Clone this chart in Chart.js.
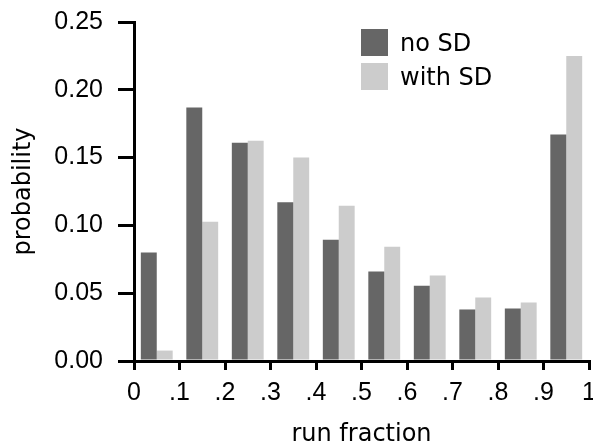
<!DOCTYPE html>
<html>
<head>
<meta charset="utf-8">
<script src="https://cdn.jsdelivr.net/npm/chart.js@4"></script>
<style>
  html, body { margin: 0; padding: 0; background: #ffffff; }
  #wrap { width: 593px; height: 445px; }
</style>
</head>
<body>
<div id="wrap"><canvas id="c" width="593" height="445"></canvas></div>
<script>
// ---- data ----
const categories = ['0-.1', '.1-.2', '.2-.3', '.3-.4', '.4-.5', '.5-.6', '.6-.7', '.7-.8', '.8-.9', '.9-1'];
const noSD   = [0.080, 0.187, 0.161, 0.117, 0.0895, 0.066, 0.0555, 0.038, 0.0387, 0.167];
const withSD = [0.0077, 0.1027, 0.1624, 0.150, 0.1145, 0.0843, 0.063, 0.0468, 0.0431, 0.225];
const seriesNames = ['no SD', 'with SD'];
const xTickLabels = ['0', '.1', '.2', '.3', '.4', '.5', '.6', '.7', '.8', '.9', '1'];
const yTickValues = [0, 0.05, 0.10, 0.15, 0.20, 0.25];

const DARK = '#666666';
const LIGHT = '#cccccc';
const TICK_FONT = { family: 'Liberation Sans', size: 25 };
const TEXT_FAMILY = 'DejaVu Sans';

const legendPlugin = {
  id: 'insideLegend',
  afterDraw(chart) {
    const ctx = chart.ctx;
    ctx.save();
    chart.data.datasets.forEach((ds, i) => {
      const bx = 361, by = 29 + i * 34, bs = 27;
      ctx.fillStyle = ds.backgroundColor;
      ctx.fillRect(bx, by, bs, bs);
      ctx.fillStyle = '#000000';
      ctx.font = '24px "' + TEXT_FAMILY + '"';
      ctx.textBaseline = 'middle';
      ctx.textAlign = 'left';
      ctx.fillText(ds.label, 400, by + bs / 2 + 2);
    });
    ctx.restore();
  }
};

new Chart(document.getElementById('c'), {
  type: 'bar',
  data: {
    labels: categories,
    datasets: [
      { label: seriesNames[0], data: noSD, backgroundColor: DARK, borderWidth: 0,
        categoryPercentage: 0.7, barPercentage: 1.0, xAxisID: 'x', yAxisID: 'y' },
      { label: seriesNames[1], data: withSD, backgroundColor: LIGHT, borderWidth: 0,
        categoryPercentage: 0.7, barPercentage: 1.0, xAxisID: 'x', yAxisID: 'y' }
    ]
  },
  options: {
    responsive: false,
    animation: false,
    devicePixelRatio: 1,
    layout: { padding: { top: 22, right: 4, left: 0, bottom: 0 } },
    plugins: {
      legend: { display: false },
      tooltip: { enabled: false }
    },
    scales: {
      x: {
        type: 'category',
        display: false,
        offset: true
      },
      x2: {
        type: 'linear',
        position: 'bottom',
        axis: 'x',
        offset: false,
        min: 0,
        max: 1,
        afterBuildTicks(scale) {
          scale.ticks = xTickLabels.map((_, i) => ({ value: i / 10 }));
        },
        afterFit(scale) {
          scale.height = 84;
          scale.paddingLeft = 0;
          scale.paddingRight = 0;
        },
        grid: {
          offset: false,
          drawOnChartArea: false,
          drawTicks: true,
          tickLength: 9,
          color: '#000000',
          lineWidth: 3
        },
        border: { display: true, color: '#000000', width: 3 },
        ticks: {
          color: '#000000',
          font: TICK_FONT,
          padding: 8,
          maxRotation: 0,
          autoSkip: false,
          callback: (v, i) => xTickLabels[i]
        },
        title: {
          display: true,
          text: 'run fraction',
          color: '#000000',
          font: { family: TEXT_FAMILY, size: 24, lineHeight: 1 },
          padding: { top: 0, bottom: -2 }
        }
      },
      y: {
        type: 'linear',
        min: 0,
        max: 0.25,
        afterBuildTicks(scale) {
          scale.ticks = yTickValues.map(v => ({ value: v }));
        },
        afterFit(scale) {
          scale.width = 134;
          scale.paddingTop = 0;
          scale.paddingBottom = 0;
        },
        grid: {
          drawOnChartArea: false,
          drawTicks: true,
          tickLength: 16,
          color: '#000000',
          lineWidth: 3
        },
        border: { display: true, color: '#000000', width: 3 },
        ticks: {
          color: '#000000',
          font: TICK_FONT,
          padding: 15,
          callback: (v) => Number(v).toFixed(2)
        },
        title: {
          display: true,
          text: 'probability',
          color: '#000000',
          font: { family: TEXT_FAMILY, size: 24, lineHeight: 1 },
          padding: { top: 12, bottom: 0 }
        }
      }
    }
  },
  plugins: [legendPlugin]
});
</script>
</body>
</html>
